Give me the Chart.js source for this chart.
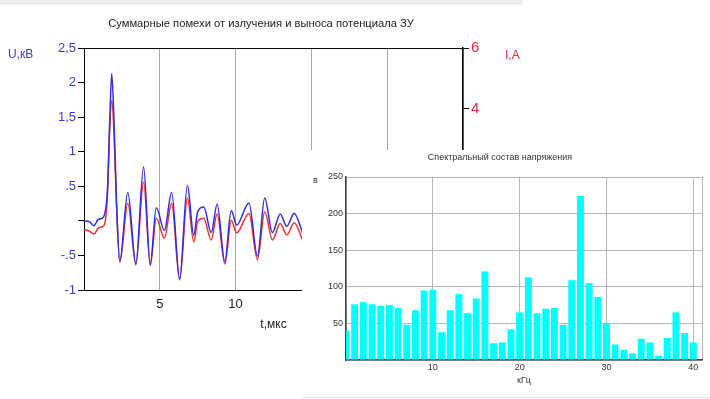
<!DOCTYPE html>
<html><head><meta charset="utf-8">
<script src="https://cdn.jsdelivr.net/npm/chart.js@4.4.0/dist/chart.umd.min.js"></script>
<style>
html,body{margin:0;padding:0;background:#fff;width:710px;height:399px;overflow:hidden;}
#topbar{position:absolute;left:0;top:0;width:523px;height:5px;background:#eeeeee;}
#main{position:absolute;left:0;top:0;width:522px;height:399px;}
#inset{position:absolute;left:302px;top:150px;width:408px;height:247px;background:#fff;border-bottom:1px solid #e4e4e4;}
canvas{display:block;}
</style></head><body>
<div id="topbar"></div>
<div id="main"><canvas id="c1" width="522" height="399"></canvas></div>
<div id="inset"><canvas id="c2" width="408" height="247"></canvas></div>
<script>
// ---- data: main chart ----
const timeUs = [0, 0.33, 0.66, 0.93, 1.21, 1.37, 1.55, 1.70, 1.83, 1.99, 2.14, 2.36, 2.89, 3.42, 3.93, 4.37, 4.77, 5.30, 5.78, 6.31, 6.82, 7.24, 7.50, 7.90, 8.39, 8.78, 9.29, 9.71, 10.07, 10.88, 11.44, 11.92, 12.43, 12.94, 13.38, 13.86, 14.42];
const voltageKV = [0.00, -0.01, -0.07, 0.02, 0.04, 0.11, 0.45, 1.46, 2.13, 1.36, 0.30, -0.58, 0.41, -0.62, 0.78, -0.63, 0.19, -0.14, 0.41, -0.84, 0.51, -0.21, 0.13, 0.20, -0.17, 0.24, -0.59, 0.15, -0.06, 0.26, -0.51, 0.33, -0.17, 0.10, -0.08, 0.11, -0.17];
const currentA = [0.00, -0.05, -0.15, 0.04, 0.09, 0.20, 1.20, 3.40, 4.26, 3.07, 0.87, -1.09, 0.87, -1.17, 1.57, -1.19, 0.37, -0.29, 0.87, -1.67, 1.04, -0.41, 0.27, 0.37, -0.35, 0.51, -1.14, 0.31, -0.11, 0.53, -0.99, 0.59, -0.35, 0.20, -0.18, 0.22, -0.35];
const uTickValues = [-1, -0.5, 0, 0.5, 1, 1.5, 2, 2.5];
const uTickLabels = ['-1', '-.5', '', '.5', '1', '1,5', '2', '2,5'];
const tTickValues = [5, 10, 15, 20];
const mainTitle = 'Суммарные помехи от излучения и выноса потенциала ЗУ';
const uAxisTitle = 'U,кВ';
const iAxisTitle = 'I,A';
const tAxisTitle = 't,мкс';

// ---- data: spectrum inset ----
const freqKHz = [0,1,2,3,4,5,6,7,8,9,10,11,12,13,14,15,16,17,18,19,20,21,22,23,24,25,26,27,28,29,30,31,32,33,34,35,36,37,38,39,40];
const spectrumV = [40,76,79,76,74,75,71,48,68,95,96,38,68,90,64,84,121,23,24,42,65,113,64,70,71,48,109,224,105,86,50,21,14,9,29,24,6,30,65,37,24];
const fTickValues = [10, 20, 30, 40];
const vTickValues = [50, 100, 150, 200, 250];
const insetTitle = 'Спектральный состав напряжения';
const vAxisTitle = 'в';
const fAxisTitle = 'кГц';

Chart.defaults.font.family = "'Liberation Sans', Arial, sans-serif";

const BLUE = '#2f2fe0', RED = '#ee3333', BLUE_TXT = '#3a3ad8', RED_TXT = '#e8283a';

const mainDeco = {
  id: 'mainDeco',
  afterDraw(chart) {
    const {ctx, chartArea: a} = chart;
    ctx.save();
    ctx.strokeStyle = '#000'; ctx.lineWidth = 1;
    ctx.beginPath(); ctx.moveTo(a.left, a.top + 0.5); ctx.lineTo(a.right, a.top + 0.5); ctx.stroke();
    ctx.font = "12px 'Liberation Sans', Arial, sans-serif";
    ctx.textBaseline = 'middle'; ctx.textAlign = 'left';
    ctx.fillStyle = BLUE_TXT; ctx.fillText(uAxisTitle, a.left - 76, a.top + 7);
    ctx.fillStyle = RED_TXT; ctx.fillText(iAxisTitle, a.right + 42, a.top + 8);
    ctx.restore();
  }
};

new Chart(document.getElementById('c1'), {
  type: 'line',
  data: {
    datasets: [
      { label: 'U', data: timeUs.map((t, i) => ({x: t, y: voltageKV[i]})), yAxisID: 'y',
        borderColor: BLUE, borderWidth: 1.5, pointRadius: 0, cubicInterpolationMode: 'monotone', fill: false },
      { label: 'I', data: timeUs.map((t, i) => ({x: t, y: currentA[i]})), yAxisID: 'y1',
        borderColor: RED, borderWidth: 1.5, pointRadius: 0, cubicInterpolationMode: 'monotone', fill: false }
    ]
  },
  options: {
    responsive: false, animation: false,
    layout: { padding: { left: 0, right: 0, top: 0, bottom: 64 } },
    plugins: {
      legend: { display: false }, tooltip: { enabled: false },
      title: { display: true, text: mainTitle, color: '#222',
        font: { size: 11.2, weight: 'normal' }, padding: { top: 17, bottom: 17.6 } }
    },
    scales: {
      x: { type: 'linear', min: 0, max: 25,
        afterFit(s) { s.height = 45; },
        ticks: { stepSize: 5, padding: 7, color: '#222', font: { size: 13 }, autoSkip: false,
          callback: v => tTickValues.includes(v) ? String(v) : '' },
        grid: { color: '#a8a8a8', drawTicks: false },
        border: { color: '#000', width: 1 },
        title: { display: true, text: tAxisTitle, color: '#222', font: { size: 12 }, padding: { top: 0, bottom: 3 } } },
      y: { position: 'left', min: -1, max: 2.5,
        afterFit(s) { s.width = 84; },
        ticks: { stepSize: 0.5, padding: 2, color: BLUE_TXT, font: { size: 13 }, autoSkip: false,
          callback: v => { const k = uTickValues.indexOf(v); return k >= 0 ? uTickLabels[k] : ''; } },
        grid: { drawOnChartArea: false, drawTicks: true, tickLength: 6, color: '#000' },
        border: { color: '#000', width: 1 } },
      y1: { position: 'right', min: -2, max: 6,
        afterFit(s) { s.width = 59; },
        ticks: { stepSize: 2, padding: 2, color: RED_TXT, font: { size: 15 } },
        grid: { drawOnChartArea: false, drawTicks: true, tickLength: 6, color: '#000' },
        border: { color: '#000', width: 1.5 } }
    }
  },
  plugins: [mainDeco]
});

const insetDeco = {
  id: 'insetDeco',
  afterDraw(chart) {
    const {ctx, chartArea: a} = chart;
    ctx.save();
    ctx.font = "9px 'Liberation Sans', Arial, sans-serif";
    ctx.fillStyle = '#333'; ctx.textBaseline = 'middle';
    ctx.textAlign = 'center'; ctx.fillText(insetTitle, a.left + 154, a.top - 19);
    ctx.textAlign = 'left'; ctx.fillText(vAxisTitle, a.left - 33, a.top + 4);
    ctx.restore();
  }
};

new Chart(document.getElementById('c2'), {
  type: 'bar',
  data: {
    datasets: [{ data: freqKHz.map((f, i) => ({x: f, y: spectrumV[i]})),
      backgroundColor: '#00ffff', borderWidth: 0, barPercentage: 0.8, categoryPercentage: 1, clip: 0 }]
  },
  options: {
    responsive: false, animation: false,
    layout: { padding: { left: 0, right: 8, top: 27, bottom: 7 } },
    plugins: { legend: { display: false }, tooltip: { enabled: false } },
    scales: {
      x: { type: 'linear', min: 0, max: 41, offset: false,
        afterFit(s) { s.height = 30; },
        afterBuildTicks(s) { s.ticks = [s.min, ...fTickValues, s.max].map(v => ({ value: v })); },
        grid: { offset: false, color: '#b8b8b8', drawTicks: false },
        border: { color: '#444', width: 1.5 },
        ticks: { padding: 2, color: '#333', font: { size: 9 }, autoSkip: false, maxRotation: 0,
          callback: v => fTickValues.includes(v) ? String(v) : '' },
        title: { display: true, text: fAxisTitle, color: '#333', font: { size: 9 }, padding: { top: 0, bottom: 4 } } },
      y: { min: 0, max: 250,
        afterFit(s) { s.width = 44; },
        grid: { color: '#b8b8b8', drawTicks: false },
        border: { color: '#444', width: 1.5 },
        ticks: { stepSize: 50, padding: 3, color: '#333', font: { size: 9 }, autoSkip: false,
          callback: v => vTickValues.includes(v) ? String(v) : '' } }
    }
  },
  plugins: [insetDeco]
});
</script>
</body></html>
